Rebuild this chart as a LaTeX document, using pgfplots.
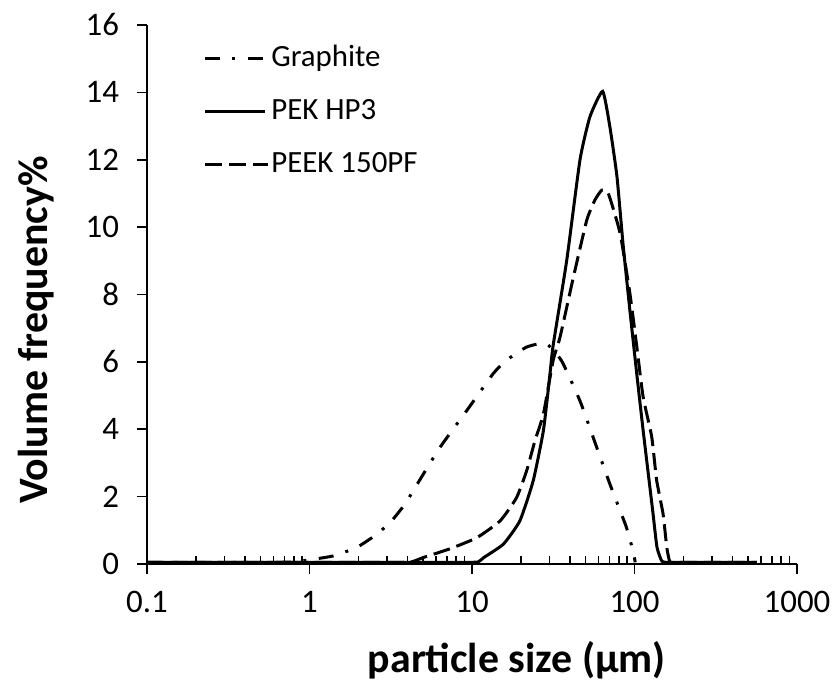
\documentclass[border=0pt]{standalone}
\usepackage{fontspec}
\setmainfont{Carlito}
\usepackage{pgfplots}
\pgfplotsset{compat=1.18}
\pgfplotsset{shortleg/.style={legend image code/.code={%
    \draw[##1] (0bp,0bp) -- (21bp,0bp); \path (0bp,0bp) -- (31.5bp,0bp);}}}

% particle size distributions (size in um, volume %)
\pgfplotstableread{
x y
0.1 0.05
0.3 0.05
0.6 0.05
0.8 0.06
1.05 0.14
1.4 0.24
1.95 0.49
2.59 0.88
3.2 1.28
3.87 1.78
4.6 2.37
6.35 3.46
9.27 4.55
13.5 5.65
16.2 6.04
21.7 6.44
28.5 6.55
35.6 6.03
46.2 4.84
57.2 3.6
70.6 2.37
88.7 1.12
98.5 0.34
101 0.05
}\graphite

\pgfplotstableread{
x y
0.1 0.05
0.5 0.05
2 0.05
6 0.05
9 0.05
10.9 0.06
11.8 0.19
15.6 0.59
19.7 1.28
23.8 2.47
27.5 3.96
30.2 5.65
31.6 6.5
38.3 9.02
46.2 12.0
53.2 13.28
63.7 14.03
70.6 12.97
78.0 11.5
85.0 9.5
93.8 7.5
103.5 5.6
112.8 4.0
122.8 2.5
130 1.5
137.5 0.5
147.6 0.08
165 0.05
200 0.05
350 0.05
567 0.05
}\pekhp

\pgfplotstableread{
x y
0.1 0.05
0.5 0.05
1.5 0.05
3 0.05
4.2 0.06
5.0 0.19
7.3 0.45
10.7 0.78
14.9 1.28
18.8 1.97
21.7 2.77
24.4 3.66
27.5 4.45
31.6 6.05
34.8 6.73
42.1 8.52
50.8 10.2
57 10.8
63 11.1
69 11.0
81.5 9.82
93.7 8.03
103 6.5
113 4.96
127.6 3.78
136.8 2.49
150 1.48
158 0.49
165 0.07
180 0.05
220 0.05
350 0.05
567 0.05
}\peek

\begin{document}
\begin{tikzpicture}
\useasboundingbox (-73.5bp,-60bp) rectangle (345.5bp,282bp);
\begin{axis}[
    at={(0,0)}, anchor=south west,
    scale only axis,
    width=325bp, height=269.5bp,
    xmode=log,
    xmin=0.1, xmax=1000,
    ymin=0, ymax=16,
    axis lines=left,
    axis line style={-, line width=0.9bp},
    clip=false,
    xtick={0.1,1,10,100,1000},
    xticklabels={0.1,1,10,100,1000},
    minor xtick={0.2,0.3,0.4,0.5,0.6,0.7,0.8,0.9,2,3,4,5,6,7,8,9,
                 20,30,40,50,60,70,80,90,200,300,400,500,600,700,800,900},
    ytick={0,2,...,16},
    /pgf/number format/assume math mode=true,
    tick align=outside,
    major tick length=5bp,
    minor tick length=4bp,
    tick style={black, line width=0.8bp},
    minor x tick style={yshift=4bp},
    xticklabel style={font=\fontsize{16.5}{19}\selectfont, yshift=-5bp},
    yticklabel style={font=\fontsize{16.5}{19}\selectfont, xshift=-5.5bp},
    xlabel={\bfseries particle size (µm)},
    ylabel={\bfseries Volume frequency\%},
    label style={font=\fontsize{21}{25}\selectfont},
    xlabel style={at={(axis description cs:0.569,-0.2004)}, anchor=base},
    ylabel style={at={(axis description cs:-0.1538,0.434)}, anchor=base},
    legend style={draw=none, fill=none, at={(axis description cs:0.086,0.988)},
        anchor=north west, font=\fontsize{15.5}{18}\selectfont,
        inner sep=0pt,
        nodes={inner xsep=1bp, inner ysep=0pt, text height=17.25bp, text depth=9.25bp}},
    legend cell align=left,
    legend image code/.code={\draw[#1] (0bp,0bp) -- (30bp,0bp);},
]
\addplot[black, line width=1.5bp, smooth, tension=0.3,
    dash pattern=on 7.5bp off 6.25bp on 1.5bp off 6.25bp] table[x=x, y=y] {\graphite};
\addlegendentry{Graphite}
\addplot[black, line width=1.5bp, smooth, tension=0.3] table[x=x, y=y] {\pekhp};
\addlegendentry{PEK HP3}
\addplot[black, line width=1.5bp, smooth, tension=0.3,
    dash pattern=on 8.5bp off 3.5bp, shortleg] table[x=x, y=y] {\peek};
\addlegendentry{PEEK 150PF}
\end{axis}
\end{tikzpicture}
\end{document}
